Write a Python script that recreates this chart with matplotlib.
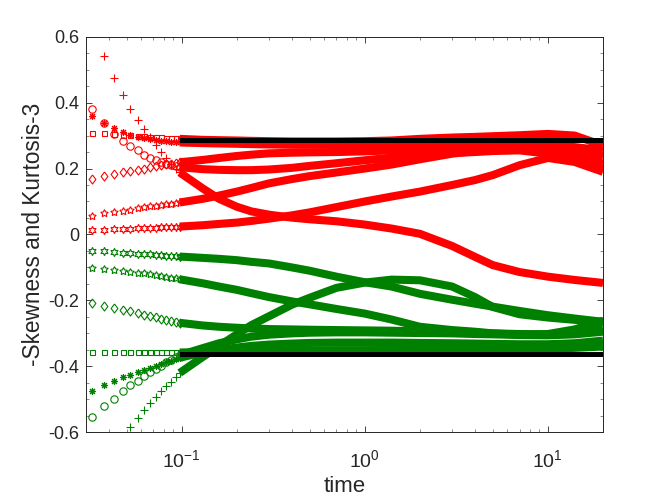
import numpy as np
import matplotlib
matplotlib.use("Agg")
import matplotlib.pyplot as plt
from matplotlib.ticker import FixedLocator, FixedFormatter, LogLocator, NullFormatter

plt.rcParams['font.family'] = ['Liberation Sans', 'DejaVu Sans']
plt.rcParams['mathtext.fontset'] = 'custom'
plt.rcParams['mathtext.rm'] = 'Liberation Sans'
plt.rcParams['axes.unicode_minus'] = False

# sample times: first 14 are the separate markers, the rest the dense band
time = [0.0325, 0.0375, 0.0425, 0.0475, 0.0525, 0.0575, 0.0625, 0.0675, 0.0725,
        0.0775, 0.0825, 0.0875, 0.0925, 0.0975,
        0.13, 0.16, 0.2, 0.24, 0.3, 0.4, 0.5, 0.7, 1.0, 1.4, 2.0, 3.0, 4.0, 5.0,
        7.0, 10.0, 14.0, 20.0]
ndisc = 14   # separate markers

# -skewness (red)
red_o = [0.380, 0.338, 0.305, 0.284, 0.267, 0.255, 0.242, 0.233, 0.227, 0.220, 0.215, 0.211, 0.207, 0.204,
         0.198, 0.196, 0.195, 0.195, 0.197, 0.202, 0.208, 0.216, 0.225, 0.233, 0.240, 0.247, 0.250, 0.253,
         0.255, 0.245, 0.225, 0.198]
red_ast = [0.358, 0.338, 0.322, 0.312, 0.303, 0.297, 0.292, 0.289, 0.286, 0.284, 0.282, 0.281, 0.280, 0.279,
           0.277, 0.276, 0.275, 0.274, 0.273, 0.272, 0.272, 0.272, 0.273, 0.275, 0.277, 0.279, 0.280, 0.280,
           0.279, 0.275, 0.265, 0.255]
red_plus = [np.nan, 0.540, 0.475, 0.422, 0.381, 0.348, 0.320, 0.295, 0.272, 0.250, 0.232, 0.215, 0.200, 0.188,
            0.140, 0.108, 0.084, 0.070, 0.060, 0.051, 0.046, 0.040, 0.030, 0.018, 0.002, -0.035, -0.068, -0.093,
            -0.114, -0.128, -0.138, -0.147]
red_sq = [0.309, 0.307, 0.305, 0.303, 0.301, 0.299, 0.298, 0.297, 0.296, 0.295, 0.294, 0.293, 0.292, 0.290,
          0.287, 0.286, 0.285, 0.284, 0.283, 0.282, 0.282, 0.282, 0.283, 0.285, 0.290, 0.294, 0.296, 0.298,
          0.301, 0.305, 0.300, 0.270]
red_dia = [0.168, 0.178, 0.184, 0.188, 0.192, 0.196, 0.200, 0.204, 0.208, 0.211, 0.213, 0.215, 0.217, 0.219,
           0.226, 0.232, 0.238, 0.242, 0.246, 0.248, 0.249, 0.250, 0.252, 0.255, 0.259, 0.264, 0.266, 0.267,
           0.266, 0.262, 0.250, 0.235]
red_pent = [0.057, 0.064, 0.068, 0.072, 0.075, 0.079, 0.082, 0.085, 0.087, 0.089, 0.091, 0.093, 0.095, 0.097,
            0.108, 0.118, 0.130, 0.141, 0.155, 0.168, 0.177, 0.188, 0.200, 0.212, 0.228, 0.245, 0.253, 0.258,
            0.260, 0.250, 0.235, 0.215]
red_hex = [0.014, 0.015, 0.016, 0.017, 0.018, 0.019, 0.020, 0.020, 0.021, 0.022, 0.022, 0.023, 0.023, 0.024,
           0.028, 0.032, 0.036, 0.041, 0.048, 0.058, 0.067, 0.083, 0.100, 0.115, 0.130, 0.150, 0.165, 0.180,
           0.210, 0.232, 0.220, 0.190]

# kurtosis-3 (green)
grn_o = [-0.553, -0.521, -0.498, -0.475, -0.457, -0.444, -0.430, -0.418, -0.408, -0.398, -0.388, -0.380, -0.372, -0.366,
         -0.345, -0.330, -0.318, -0.310, -0.304, -0.300, -0.298, -0.297, -0.297, -0.298, -0.299, -0.300, -0.302, -0.303,
         -0.305, -0.306, -0.303, -0.295]
grn_ast = [-0.475, -0.457, -0.444, -0.432, -0.425, -0.417, -0.410, -0.404, -0.398, -0.393, -0.388, -0.383, -0.378, -0.374,
           -0.358, -0.350, -0.343, -0.338, -0.334, -0.331, -0.329, -0.328, -0.328, -0.328, -0.329, -0.330, -0.331, -0.332,
           -0.333, -0.333, -0.330, -0.322]
grn_plus = [np.nan, np.nan, np.nan, np.nan, -0.585, -0.557, -0.533, -0.512, -0.494, -0.476, -0.460, -0.447, -0.432, -0.420,
            -0.372, -0.338, -0.303, -0.275, -0.248, -0.213, -0.192, -0.162, -0.146, -0.137, -0.139, -0.158, -0.190, -0.220,
            -0.242, -0.252, -0.259, -0.266]
grn_sq = [-0.358, -0.358, -0.358, -0.358, -0.358, -0.358, -0.358, -0.358, -0.358, -0.358, -0.358, -0.358, -0.358, -0.358,
          -0.357, -0.356, -0.355, -0.354, -0.353, -0.352, -0.352, -0.351, -0.351, -0.350, -0.350, -0.349, -0.349, -0.348,
          -0.347, -0.346, -0.344, -0.340]
grn_dia = [-0.209, -0.216, -0.222, -0.228, -0.233, -0.238, -0.243, -0.247, -0.251, -0.255, -0.259, -0.262, -0.265, -0.268,
           -0.276, -0.280, -0.283, -0.285, -0.287, -0.288, -0.289, -0.290, -0.291, -0.292, -0.294, -0.296, -0.298, -0.300,
           -0.302, -0.303, -0.298, -0.285]
grn_pent = [-0.103, -0.106, -0.108, -0.111, -0.113, -0.116, -0.118, -0.121, -0.123, -0.126, -0.128, -0.131, -0.133, -0.136,
            -0.148, -0.158, -0.168, -0.178, -0.190, -0.203, -0.212, -0.226, -0.240, -0.258, -0.280, -0.290, -0.295, -0.300,
            -0.304, -0.302, -0.288, -0.262]
grn_hex = [-0.049, -0.051, -0.053, -0.055, -0.056, -0.058, -0.059, -0.060, -0.062, -0.063, -0.064, -0.065, -0.066, -0.067,
           -0.071, -0.074, -0.078, -0.083, -0.088, -0.100, -0.110, -0.128, -0.145, -0.158, -0.180, -0.198, -0.210, -0.219,
           -0.232, -0.245, -0.255, -0.265]

# gaussian-limit reference lines
ref_t = [0.1, 20.0]
ref_top = [0.288, 0.288]
ref_bot = [-0.362, -0.362]

diamond = [(0, 1), (0.75, 0), (0, -1), (-0.75, 0), (0, 1)]
markers = [('o', 5.3), ((8, 2, 0), 5.0), ('+', 5.2), ('s', 3.6), (diamond, 6.5), ((5, 1, 0), 5.6), ((6, 1, 0), 6.0)]

red = '#ff0000'
green = '#008000'
series = [(red, [red_o, red_ast, red_plus, red_sq, red_dia, red_pent, red_hex]),
          (green, [grn_o, grn_ast, grn_plus, grn_sq, grn_dia, grn_pent, grn_hex])]

t = np.array(time)
fig = plt.figure(figsize=(6.64, 4.98), dpi=100)
ax = fig.add_axes([0.1295, 0.132, 0.7786, 0.7944])

for col, group in series:
    for (mk, ms), vals in zip(markers, group):
        v = np.array(vals)
        ax.plot(t[:ndisc], v[:ndisc], ls='none', marker=mk, ms=ms, mfc='none', mec=col, mew=0.8)
        ax.plot(t[ndisc - 1:], v[ndisc - 1:], '-', color=col, lw=5.8,
                solid_joinstyle='round', solid_capstyle='butt')

ax.plot(ref_t, ref_top, '-', color='k', lw=3.6, zorder=5)
ax.plot(ref_t, ref_bot, '-', color='k', lw=3.6, zorder=5)

ax.set_xscale('log')
ax.set_xlim(0.03, 20)
ax.set_ylim(-0.6, 0.6)

ax.xaxis.set_major_locator(FixedLocator([0.1, 1, 10]))
ax.xaxis.set_major_formatter(FixedFormatter([r'$\mathregular{10^{-1}}$', r'$\mathregular{10^{0}}$', r'$\mathregular{10^{1}}$']))
ax.xaxis.set_minor_locator(LogLocator(base=10, subs=np.arange(2, 10), numticks=20))
ax.xaxis.set_minor_formatter(NullFormatter())
ax.set_yticks([-0.6, -0.4, -0.2, 0, 0.2, 0.4, 0.6])
ax.set_yticklabels(['-0.6', '-0.4', '-0.2', '0', '0.2', '0.4', '0.6'])
ax.set_yticks(np.arange(-0.6, 0.61, 0.05), minor=True)

gray = '#262626'
for s in ax.spines.values():
    s.set_color(gray)
    s.set_linewidth(0.7)
ax.tick_params(which='both', direction='in', top=True, right=True, colors=gray, width=0.6)
ax.tick_params(which='major', length=4)
ax.tick_params(which='minor', length=2.5, color='#777777')
ax.tick_params(axis='y', labelsize=13, pad=5)
ax.tick_params(axis='x', labelsize=14, pad=12)

ax.set_xlabel('time', fontsize=16, color=gray, labelpad=4)
ax.set_ylabel('-Skewness and Kurtosis-3', fontsize=16.3, color=gray, labelpad=2)

fig.savefig('out.png', dpi=100)
